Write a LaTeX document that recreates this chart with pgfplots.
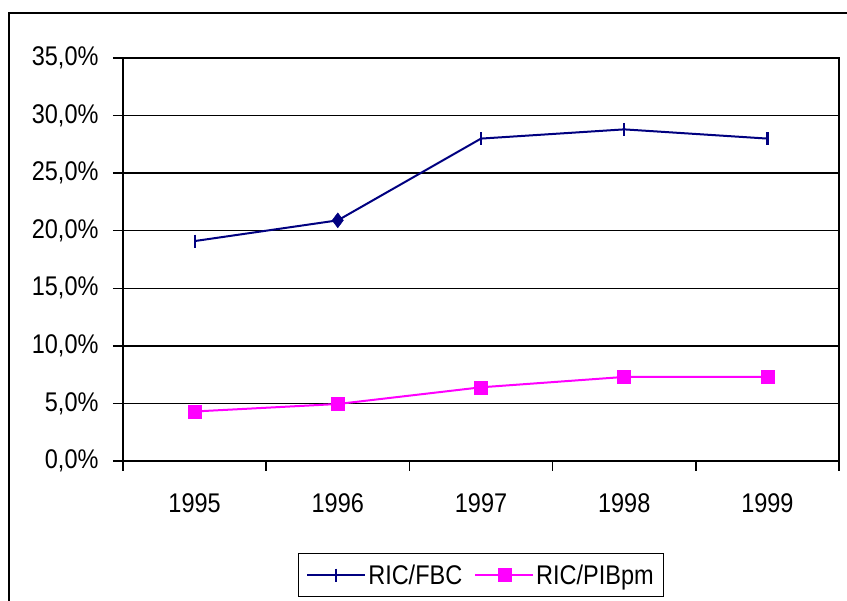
\documentclass[border=0pt]{standalone}
\usepackage{pgfplots}
\pgfplotsset{compat=1.18}
\usepackage{fontspec}
\setmainfont{Liberation Sans}[FakeStretch=0.87]
\definecolor{navyline}{HTML}{000080}
\definecolor{magentaline}{HTML}{FF00FF}
\begin{document}
\begin{tikzpicture}[x=1bp,y=1bp,font=\fontsize{27bp}{32bp}\selectfont]
\useasboundingbox (0,0) rectangle (847,601);
% chart frame
\draw[line width=2bp] (9,-5) -- (9,587.5) -- (852,587.5);
\begin{axis}[
  at={(123bp,140bp)}, anchor=south west,
  scale only axis, width=716bp, height=403bp,
  xmin=-0.5, xmax=4.5, ymin=0, ymax=35,
  % tick marks sit between the categories, names centred on them
  xtick={-0.5,0.5,1.5,2.5,3.5,4.5},
  xticklabels={},
  extra x ticks={0,1,2,3,4},
  extra x tick labels={1995,1996,1997,1998,1999},
  extra x tick style={tick style={draw=none}, xticklabel style={yshift=-19bp}},
  ytick={0,5,10,15,20,25,30,35},
  yticklabels={{0,0\%},{5,0\%},{10,0\%},{15,0\%},{20,0\%},{25,0\%},{30,0\%},{35,0\%}},
  tick pos=left,
  tick align=outside,
  major tick length=10bp,
  tick style={black, line width=1.5bp},
  axis line style={black, line width=1.5bp},
  ymajorgrids, grid style={black, line width=1.5bp},
  yticklabel style={xshift=-11bp},
  legend columns=2,
  legend style={at={(0.5,-0.283)}, anchor=center, draw=black, line width=1.5bp,
    inner xsep=8bp, inner ysep=9bp,
    /tikz/every even column/.append style={column sep=10bp}},
  legend image code/.code={\draw[mark repeat=2,mark phase=2] plot coordinates {(0bp,0bp) (29bp,0bp) (58bp,0bp)};},
  clip=false,
]
\addplot[navyline, line width=2bp, mark=|, mark size=6.5bp, mark options={line width=2.2bp}]
  coordinates {(0,19.1) (1,20.9) (2,28.0) (3,28.8) (4,28.0)};
\addlegendentry{RIC/FBC}
\addplot[magentaline, line width=2bp, mark=square*, mark size=6.5bp, mark options={fill=magentaline, draw=magentaline, line width=0.5bp}]
  coordinates {(0,4.3) (1,4.95) (2,6.4) (3,7.3) (4,7.3)};
\addlegendentry{RIC/PIBpm}
% the 1996 point of RIC/FBC carries a diamond marker
\addplot[forget plot, only marks, navyline, mark=diamond*, mark size=7.5bp, mark options={fill=navyline}]
  coordinates {(1,20.9)};
\end{axis}
\end{tikzpicture}
\end{document}
